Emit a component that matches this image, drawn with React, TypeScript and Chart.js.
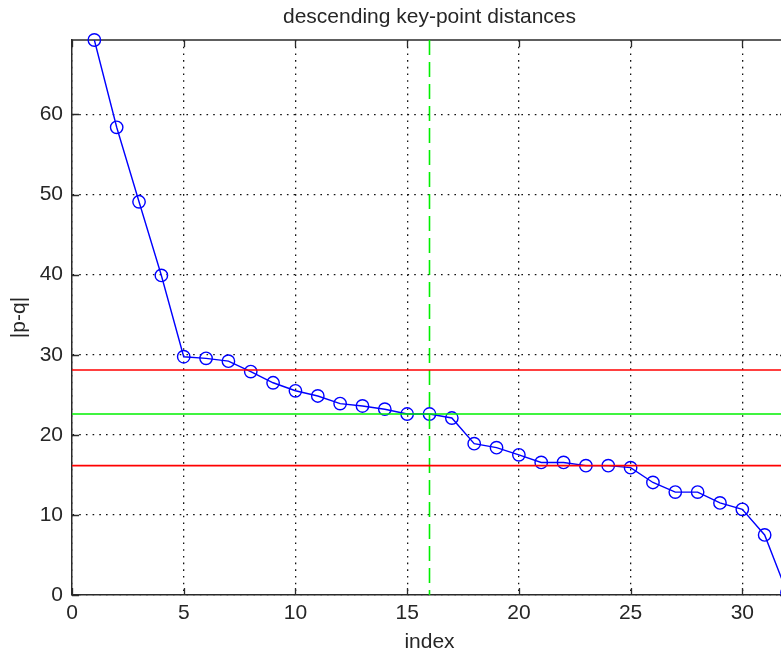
import React, { useEffect, useRef } from 'react';
import { Chart, registerables } from 'chart.js';

Chart.register(...registerables);

// ---- data ----
const indices = [
  1, 2, 3, 4, 5, 6, 7, 8, 9, 10, 11, 12, 13, 14, 15, 16,
  17, 18, 19, 20, 21, 22, 23, 24, 25, 26, 27, 28, 29, 30, 31, 32,
];
const distances = [
  69.3, 58.4, 49.1, 39.9, 29.75, 29.55, 29.2, 27.9, 26.5, 25.5, 24.85, 23.9, 23.6, 23.2, 22.6, 22.6,
  22.1, 18.9, 18.4, 17.5, 16.55, 16.55, 16.15, 16.15, 15.9, 14.05, 12.85, 12.85, 11.5, 10.7, 7.5, 0.3,
];
const upperLevel = 28.1;
const meanLevel = 22.6;
const lowerLevel = 16.15;
const splitIndex = 16;
const xRange = [0, 32];
const yRange = [0, 69.3];
const xStep = 5;
const yStep = 10;

const titleText = 'descending key-point distances';
const xLabel = 'index';
const yLabel = '|p-q|';

const FONT = '"Liberation Sans", Arial, Helvetica, sans-serif';
const TEXT_COLOR = '#262626';
const AXIS_COLOR = '#2a2a2a';
const BLUE = '#0000ff';
const RED = '#ff0000';
const GREEN = '#00f000';

const framePlugin = {
  id: 'matlabFrame',
  beforeDatasetsDraw(chart: any) {
    const { ctx, chartArea, scales } = chart;
    const { left, right, top, bottom } = chartArea;
    const x = scales.x;
    const y = scales.y;
    ctx.save();
    ctx.strokeStyle = AXIS_COLOR;
    ctx.lineWidth = 1.5;
    ctx.beginPath();
    ctx.moveTo(left, top);
    ctx.lineTo(right, top);
    ctx.lineTo(right, bottom);
    ctx.stroke();
    ctx.lineWidth = 1.3;
    ctx.beginPath();
    const tl = 7;
    x.ticks.forEach((t: any) => {
      const px = Math.round(x.getPixelForValue(t.value)) + 0.5;
      ctx.moveTo(px, bottom);
      ctx.lineTo(px, bottom - tl);
      ctx.moveTo(px, top);
      ctx.lineTo(px, top + tl);
    });
    y.ticks.forEach((t: any) => {
      const py = Math.round(y.getPixelForValue(t.value)) + 0.5;
      ctx.moveTo(left, py);
      ctx.lineTo(left + tl, py);
      ctx.moveTo(right, py);
      ctx.lineTo(right - tl, py);
    });
    ctx.stroke();
    ctx.restore();
  },
};

export default function App() {
  const canvasRef = useRef<HTMLCanvasElement | null>(null);

  useEffect(() => {
    const canvas = canvasRef.current;
    if (!canvas) return;
    const font = { family: FONT, size: 21, weight: 'normal' as const };
    const hLine = (level: number, color: string) => ({
      data: [
        { x: xRange[0], y: level },
        { x: xRange[1], y: level },
      ],
      borderColor: color,
      borderWidth: 1.6,
      pointRadius: 0,
      fill: false,
    });
    const chart = new Chart(canvas, {
      type: 'line',
      data: {
        datasets: [
          hLine(upperLevel, RED),
          hLine(lowerLevel, RED),
          hLine(meanLevel, GREEN),
          {
            data: [
              { x: splitIndex, y: yRange[1] },
              { x: splitIndex, y: yRange[0] },
            ],
            borderColor: GREEN,
            borderWidth: 1.6,
            borderDash: [15, 7],
            pointRadius: 0,
            fill: false,
          },
          {
            data: indices.map((v, i) => ({ x: v, y: distances[i] })),
            borderColor: BLUE,
            borderWidth: 1.4,
            pointRadius: 6.2,
            pointBorderWidth: 1.4,
            pointBorderColor: BLUE,
            pointBackgroundColor: 'rgba(0,0,0,0)',
            pointStyle: 'circle',
            fill: false,
            clip: false as any,
          },
        ] as any,
      },
      options: {
        responsive: false,
        animation: false,
        parsing: true,
        layout: { padding: { left: 0, right: 13, top: 0, bottom: 0 } },
        plugins: {
          legend: { display: false },
          tooltip: { enabled: false },
          title: {
            display: true,
            text: titleText,
            color: TEXT_COLOR,
            font,
            fullSize: false,
            padding: { top: 4.5, bottom: 10.3 },
          },
        },
        scales: {
          x: {
            type: 'linear',
            min: xRange[0],
            max: xRange[1],
            ticks: {
              stepSize: xStep,
              includeBounds: false,
              padding: 6,
              color: TEXT_COLOR,
              font,
              maxRotation: 0,
            },
            grid: { color: '#111', lineWidth: 1.3, drawTicks: false },
            border: { display: true, color: AXIS_COLOR, width: 1.5, dash: [1.6, 5.1] },
            title: {
              display: true,
              text: xLabel,
              color: TEXT_COLOR,
              font,
              padding: { top: 0, bottom: 1.4 },
            },
            afterFit: (s: any) => {
              s.height = 61;
            },
          },
          y: {
            type: 'linear',
            min: yRange[0],
            max: yRange[1],
            ticks: {
              stepSize: yStep,
              includeBounds: false,
              padding: 9,
              color: TEXT_COLOR,
              font,
            },
            grid: { color: '#111', lineWidth: 1.3, drawTicks: false },
            border: { display: true, color: AXIS_COLOR, width: 1.5, dash: [1.6, 5.1] },
            title: {
              display: true,
              text: yLabel,
              color: TEXT_COLOR,
              font,
              padding: { top: 6.4, bottom: 0 },
            },
            afterFit: (s: any) => {
              s.width = 72;
            },
          },
        },
      } as any,
      plugins: [framePlugin],
    });
    return () => chart.destroy();
  }, []);

  return (
    <div
      style={{
        position: 'fixed',
        left: 0,
        top: 0,
        width: 781,
        height: 656,
        overflow: 'hidden',
        background: '#fff',
      }}
    >
      <canvas ref={canvasRef} width={800} height={656} style={{ display: 'block' }} />
    </div>
  );
}
